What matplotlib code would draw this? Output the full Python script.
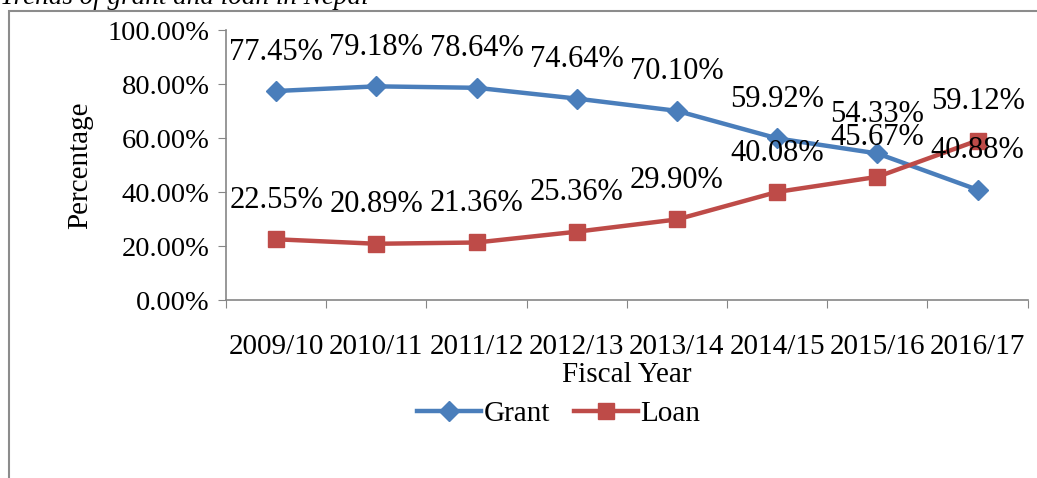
import matplotlib.pyplot as plt
from matplotlib.patches import Rectangle
from matplotlib.ticker import FuncFormatter

plt.rcParams['font.family'] = ['Liberation Serif', 'DejaVu Serif']

years = ['2009/10', '2010/11', '2011/12', '2012/13', '2013/14', '2014/15', '2015/16', '2016/17']
grant = [77.45, 79.18, 78.64, 74.64, 70.10, 59.92, 54.33, 40.88]
loan = [22.55, 20.89, 21.36, 25.36, 29.90, 40.08, 45.67, 59.12]

fig = plt.figure(figsize=(10.37, 4.78), dpi=100)
ax = fig.add_axes([0.218, 0.372, 0.773, 0.565])

# outer frame of the chart area (as in the source document)
fig.patches.append(Rectangle((9 / 1037, -0.1), 1.2, 1 - 11 / 478 + 0.1, transform=fig.transFigure,
                             fill=False, edgecolor='#8c8c8c', linewidth=1.5))

x = range(len(years))
ax.plot(x, grant, color='#4A7EBB', lw=3.2, marker='D', ms=10, label='Grant')
ax.plot(x, loan, color='#BE4B48', lw=3.2, marker='s', ms=12, label='Loan')

for i in x:
    ax.annotate(f'{grant[i]:.2f}%', (i, grant[i]), xytext=(0, 28), textcoords='offset points',
                ha='center', va='center', fontsize=22)
    ax.annotate(f'{loan[i]:.2f}%', (i, loan[i]), xytext=(0, 28), textcoords='offset points',
                ha='center', va='center', fontsize=22)

ax.set_xlim(-0.5, len(years) - 0.5)
ax.set_ylim(0, 100)
ax.set_yticks([0, 20, 40, 60, 80, 100])
ax.yaxis.set_major_formatter(FuncFormatter(lambda v, p: f'{v:.2f}%'))
ax.set_xticks([i - 0.5 for i in range(len(years) + 1)], minor=False)
ax.set_xticklabels([])
ax.set_xticks(list(x), minor=True)
ax.set_xticklabels(years, minor=True, fontsize=21)
ax.tick_params(axis='x', which='major', length=6, color='#868686', direction='out')
ax.tick_params(axis='x', which='minor', length=0, pad=24)
ax.tick_params(axis='y', length=6, color='#868686', labelsize=20.5, pad=6)

for s in ['top', 'right']:
    ax.spines[s].set_visible(False)
for s in ['left', 'bottom']:
    ax.spines[s].set_color('#868686')
    ax.spines[s].set_linewidth(1.2)

ax.set_ylabel('Percentage', fontsize=21, labelpad=10)
ax.set_xlabel('Fiscal Year', fontsize=21, labelpad=2)
ax.legend(loc='upper center', bbox_to_anchor=(0.415, -0.33), ncol=2, frameon=False, fontsize=21,
          handlelength=2.2, handletextpad=0.1, columnspacing=0.8, borderaxespad=0)

fig.text(0.0, 1 - 4 / 478, 'Trends of grant and loan in Nepal', fontsize=19.5, style='italic',
         ha='left', va='baseline')

fig.savefig('out.png', dpi=100)
